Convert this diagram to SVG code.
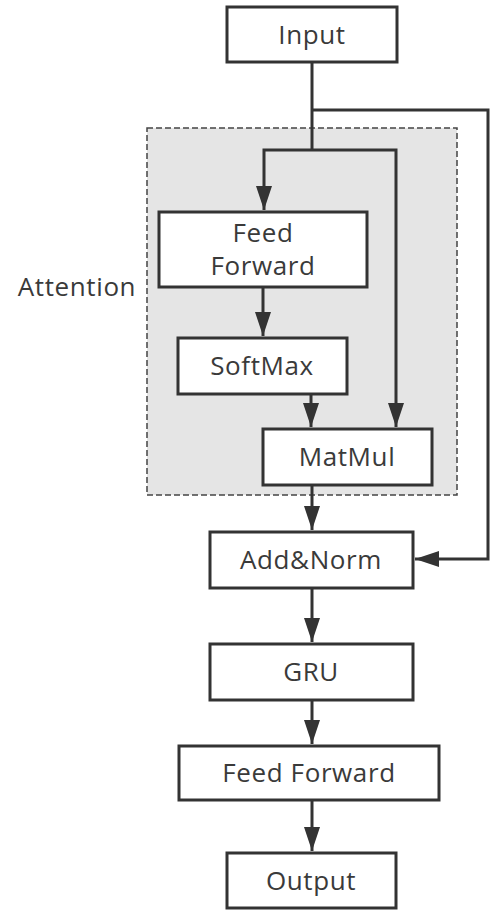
<svg xmlns="http://www.w3.org/2000/svg" width="490" height="910" viewBox="0 0 490 910">
<defs>
<style>
.box{fill:#fff;stroke:#333;stroke-width:3}
.lbl{font-family:"Open Sans","Noto Sans",sans-serif;font-size:26px;letter-spacing:0.6px;fill:#3a3a3a;text-anchor:middle}
.con{fill:none;stroke:#333;stroke-width:3}
</style>
<marker id="arr" markerUnits="userSpaceOnUse" markerWidth="26" markerHeight="18" refX="24" refY="8" orient="auto" viewBox="0 0 26 18">
<path d="M0,0 L24,8 L0,16 z" fill="#333"/>
</marker>
</defs>
<g id="attention">
<rect x="147" y="128" width="310" height="367" fill="#e5e5e5" stroke="#444" stroke-width="1.5" stroke-dasharray="6,3"/>
<text class="lbl" x="77" y="296">Attention</text>
</g>
<g id="input"><rect class="box" x="227" y="7" width="170" height="55"/><text class="lbl" x="312" y="44">Input</text></g>
<g id="ff1"><rect class="box" x="159" y="212" width="208" height="75"/><text class="lbl" x="263" y="242">Feed</text><text class="lbl" x="263" y="275">Forward</text></g>
<g id="softmax"><rect class="box" x="178" y="338" width="169" height="56"/><text class="lbl" x="262" y="375">SoftMax</text></g>
<g id="matmul"><rect class="box" x="263" y="429" width="169" height="56"/><text class="lbl" x="347" y="466">MatMul</text></g>
<g id="addnorm"><rect class="box" x="210" y="532" width="203" height="56"/><text class="lbl" x="311" y="569">Add&amp;Norm</text></g>
<g id="gru"><rect class="box" x="210" y="644" width="203" height="56"/><text class="lbl" x="311" y="681">GRU</text></g>
<g id="ff2"><rect class="box" x="179" y="746" width="260" height="54"/><text class="lbl" x="309" y="782">Feed Forward</text></g>
<g id="output"><rect class="box" x="227" y="853" width="169" height="55"/><text class="lbl" x="311" y="890">Output</text></g>
<g id="connectors">
<path class="con" d="M312,62 V150"/>
<path class="con" d="M312,150 H264 V210" marker-end="url(#arr)"/>
<path class="con" d="M312,150 H396 V427" marker-end="url(#arr)"/>
<path class="con" d="M312,110 H488 V559 H415" marker-end="url(#arr)"/>
<path class="con" d="M263,287 V336" marker-end="url(#arr)"/>
<path class="con" d="M311,394 V427" marker-end="url(#arr)"/>
<path class="con" d="M312,485 V530" marker-end="url(#arr)"/>
<path class="con" d="M312,588 V642" marker-end="url(#arr)"/>
<path class="con" d="M312,700 V744" marker-end="url(#arr)"/>
<path class="con" d="M312,800 V851" marker-end="url(#arr)"/>
</g>
</svg>
